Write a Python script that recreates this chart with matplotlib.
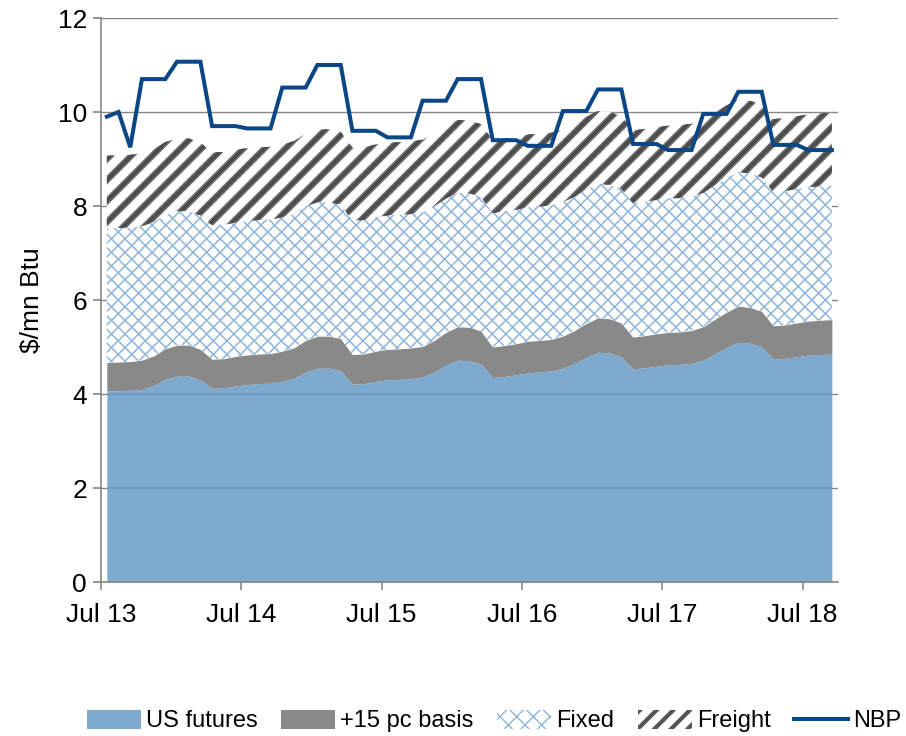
import numpy as np
import matplotlib
matplotlib.use("Agg")
import matplotlib.pyplot as plt
from matplotlib.collections import LineCollection
from matplotlib.patches import Patch
from matplotlib.lines import Line2D

plt.rcParams['font.family'] = ['Liberation Sans', 'DejaVu Sans']

# ---- data (monthly, Jul 2013 - Sep 2018) ----
us_futures = [4.06, 4.07, 4.08, 4.10, 4.18, 4.31, 4.38, 4.38, 4.30, 4.12,
              4.13, 4.17, 4.20, 4.22, 4.23, 4.27, 4.33, 4.47, 4.55, 4.55,
              4.50, 4.21, 4.22, 4.27, 4.30, 4.31, 4.33, 4.36, 4.47, 4.62,
              4.72, 4.71, 4.64, 4.35, 4.37, 4.41, 4.45, 4.47, 4.49, 4.55,
              4.65, 4.78, 4.89, 4.87, 4.79, 4.53, 4.56, 4.59, 4.62, 4.63,
              4.65, 4.72, 4.86, 4.99, 5.10, 5.08, 5.01, 4.74, 4.76, 4.79,
              4.83, 4.84, 4.85]
basis = [0.61, 0.61, 0.61, 0.62, 0.63, 0.65, 0.66, 0.66, 0.65, 0.62,
         0.62, 0.63, 0.63, 0.63, 0.63, 0.64, 0.65, 0.67, 0.68, 0.68,
         0.68, 0.63, 0.63, 0.64, 0.65, 0.65, 0.65, 0.65, 0.67, 0.69,
         0.71, 0.71, 0.70, 0.65, 0.66, 0.66, 0.67, 0.67, 0.67, 0.68,
         0.70, 0.72, 0.73, 0.73, 0.72, 0.68, 0.68, 0.69, 0.69, 0.69,
         0.70, 0.71, 0.73, 0.75, 0.77, 0.76, 0.75, 0.71, 0.71, 0.72,
         0.72, 0.73, 0.73]
fixed = [2.85] * 63
freight = [1.55] * 63
nbp = [9.90, 10.00, 9.25, 10.70, 10.70, 10.70, 11.07, 11.07, 11.07, 9.70,
       9.70, 9.70, 9.65, 9.65, 9.65, 10.52, 10.52, 10.52, 11.00, 11.00,
       11.00, 9.60, 9.60, 9.60, 9.46, 9.46, 9.46, 10.24, 10.24, 10.24,
       10.70, 10.70, 10.70, 9.40, 9.40, 9.40, 9.28, 9.28, 9.28, 10.02,
       10.02, 10.02, 10.48, 10.48, 10.48, 9.32, 9.32, 9.32, 9.19, 9.19,
       9.19, 9.96, 9.96, 9.96, 10.43, 10.43, 10.43, 9.30, 9.30, 9.30,
       9.19, 9.19, 9.19]
tick_labels = ['Jul 13', 'Jul 14', 'Jul 15', 'Jul 16', 'Jul 17', 'Jul 18']

# ---- figure ----
W_PX, H_PX, DPI = 906, 736, 100
fig = plt.figure(figsize=(W_PX / DPI, H_PX / DPI), dpi=DPI)
L, R, T, B = 101, 837.7, 18, 582
ax = fig.add_axes([L / W_PX, 1 - B / H_PX, (R - L) / W_PX, (B - T) / H_PX])
axw, axh = R - L, B - T

n = len(us_futures)
x = np.arange(n) + 0.5
us = np.array(us_futures)
l1 = us
l2 = l1 + np.array(basis)
l3 = l2 + np.array(fixed)
l4 = l3 + np.array(freight)

grid_c = '#868686'
for yv in [2, 4, 6, 8, 10, 12]:
    ax.axhline(yv, color=grid_c, lw=1.0, zorder=0)

blue = '#7eaad0'
ax.fill_between(x, 0, l1, color=blue, lw=0, zorder=2)
ax.hlines([2, 4], x[0], x[-1], color='#6d97bf', lw=1.2, zorder=2.05)
ax.fill_between(x, l1, l2, color='#898989', lw=0, zorder=2)
c_fixed = ax.fill_between(x, l2, l3, facecolor='white', lw=0, zorder=2)
c_freight = ax.fill_between(x, l3, l4, facecolor='white', lw=0, zorder=2)


def diag_lines(spacing_px, direction):
    segs = []
    k = axh / axw
    step = spacing_px / axw
    if direction > 0:
        u = -k
        while u < 1:
            segs.append([(u, 0), (u + k, 1)])
            u += step
    else:
        u = 0
        while u < 1 + k:
            segs.append([(u, 0), (u - k, 1)])
            u += step
    return segs


def add_pattern(coll, segs, color, lw):
    lc = LineCollection(segs, colors=color, linewidths=lw,
                        transform=ax.transAxes, zorder=2.1)
    ax.add_collection(lc)
    lc.set_clip_path(coll.get_paths()[0], ax.transData)


xc = '#8db5da'
add_pattern(c_fixed, diag_lines(13.6, 1), xc, 1.1)
add_pattern(c_fixed, diag_lines(13.6, -1), xc, 1.1)
add_pattern(c_freight, diag_lines(21, 1), '#6a6a6a', 4.6)
add_pattern(c_freight, diag_lines(21, 1), '#4a4a4a', 2.2)

nbp_c = '#0b4686'
ax.plot(x, nbp, color=nbp_c, lw=2.9, zorder=3, solid_joinstyle='miter')

ax.set_xlim(0, n)
ax.set_ylim(0, 12)
ax.set_yticks([0, 2, 4, 6, 8, 10, 12])
ax.set_xticks([0, 12, 24, 36, 48, 60])
ax.set_xticklabels(tick_labels)
for s in ['top', 'right']:
    ax.spines[s].set_visible(False)
for s in ['left', 'bottom']:
    ax.spines[s].set_color(grid_c)
    ax.spines[s].set_linewidth(1.2)
    ax.spines[s].set_zorder(4)
ax.tick_params(axis='both', colors=grid_c, labelcolor='black',
               labelsize=19, length=6, width=1.2, direction='out')
ax.tick_params(axis='x', pad=9)
ax.tick_params(axis='y', pad=4)
ax.set_ylabel('$/mn Btu', fontsize=19, labelpad=10)

plt.rcParams['hatch.linewidth'] = 1.0
handles = [
    Patch(facecolor=blue, edgecolor='none'),
    Patch(facecolor='#898989', edgecolor='none'),
    Patch(facecolor='white', edgecolor=xc, hatch='xx', lw=0),
    Patch(facecolor='white', edgecolor='#555555', hatch='//', lw=0),
    Line2D([0], [0], color=nbp_c, lw=2.9),
]
labels = ['US futures', '+15 pc basis', 'Fixed', 'Freight', 'NBP']
leg = fig.legend(handles, labels, loc='center', bbox_to_anchor=(494 / W_PX, 1 - 721 / H_PX),
                 ncol=5, frameon=False, handlelength=2.3, handleheight=0.85,
                 handletextpad=0.2, columnspacing=1.0, borderaxespad=0, borderpad=0,
                 prop={'family': ['Liberation Sans'], 'size': 17})
lp = leg.get_patches()
if len(lp) >= 4 and hasattr(lp[3], 'set_hatch_linewidth'):
    lp[2].set_hatch_linewidth(1.0)
    lp[3].set_hatch_linewidth(3.0)

fig.savefig('out.png', dpi=DPI)
